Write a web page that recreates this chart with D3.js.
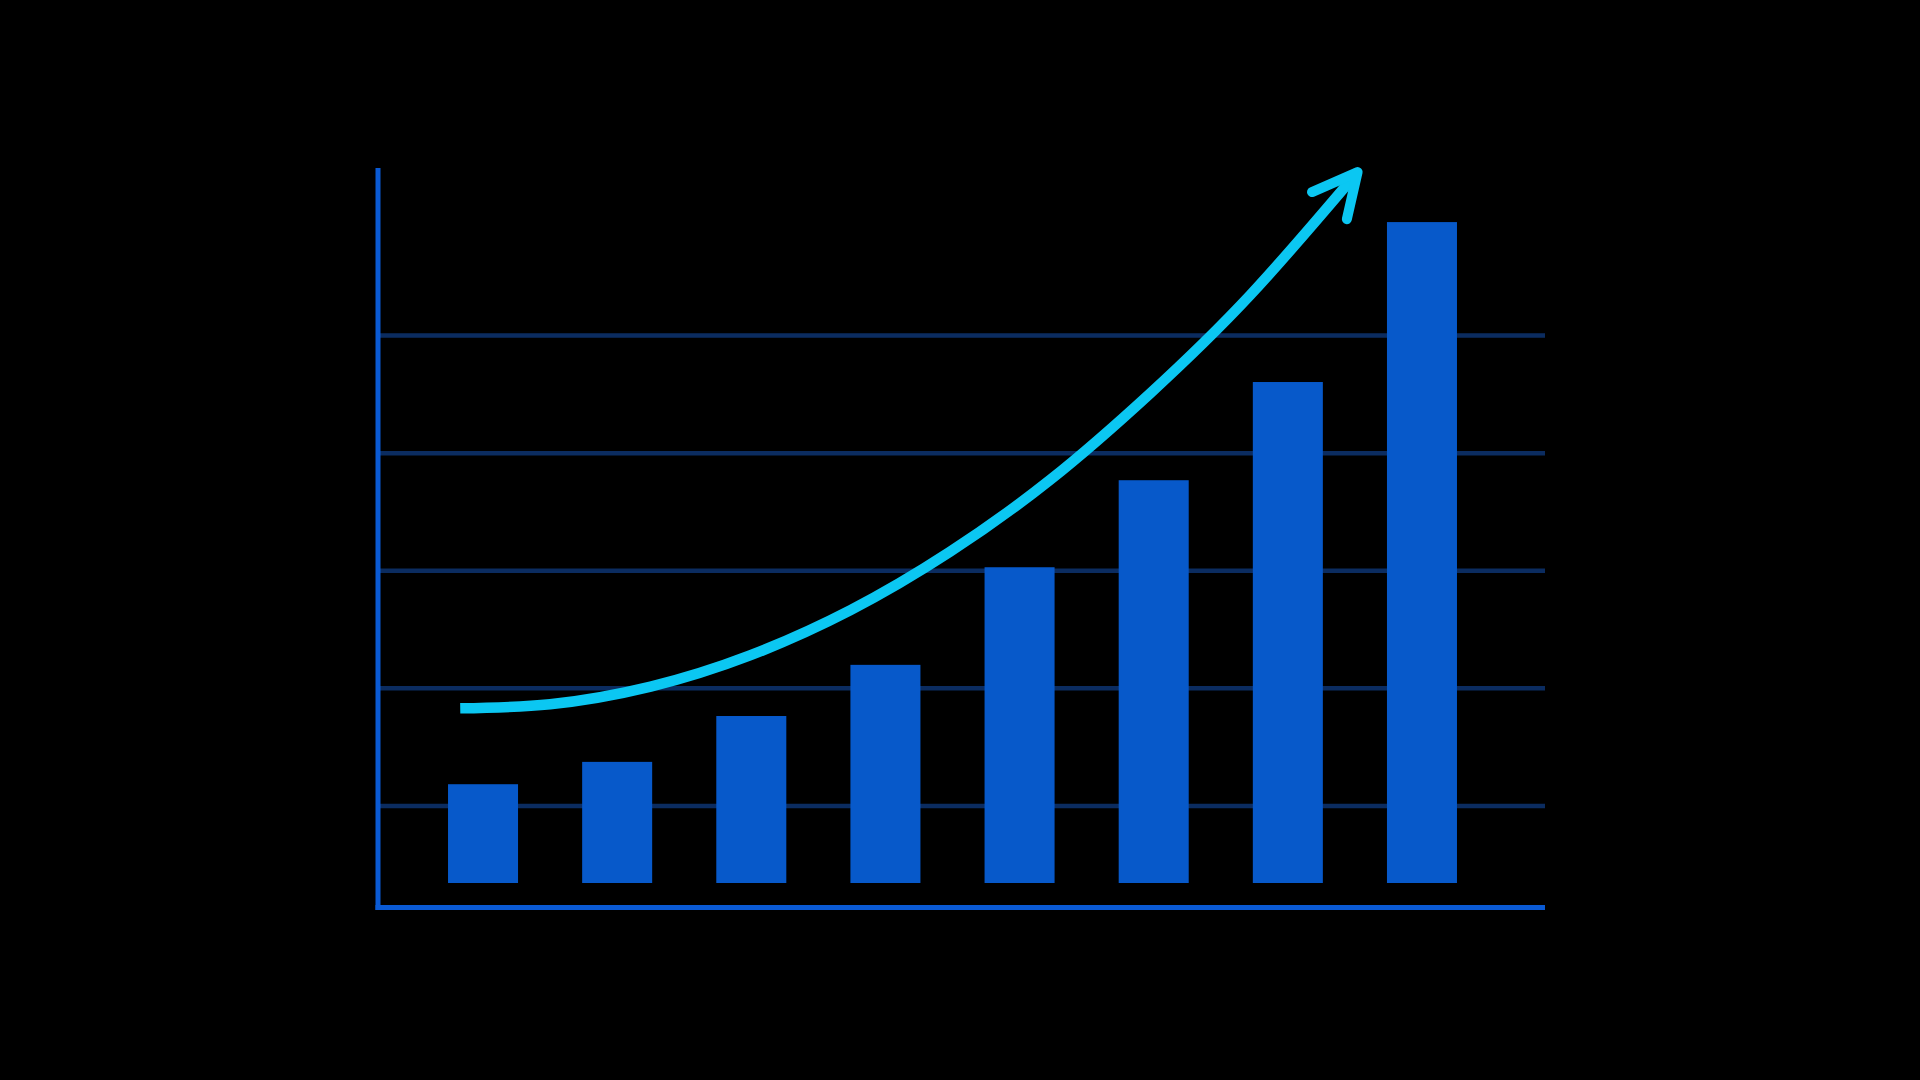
<!DOCTYPE html>
<html>
<head>
<meta charset="utf-8">
<script src="https://cdn.jsdelivr.net/npm/d3@7"></script>
<style>
  html, body { margin: 0; padding: 0; background: #000; overflow: hidden; }
</style>
</head>
<body>
<div id="chart"></div>
<script>
// bar values (bars stand on 0)
var categories = ["1", "2", "3", "4", "5", "6", "7", "8"];
var values = [16.8, 20.6, 28.4, 37.1, 53.7, 68.5, 85.2, 112.4];
// horizontal guide lines
var gridValues = [13.1, 33.1, 53.1, 73.1, 93.1];
// trend arrow, x in category index units, y in value units
var trendX = [-0.17, 0.50, 1.25, 1.99, 2.74, 3.48, 4.23, 4.97, 5.72, 6.52];
var trendY = [29.7, 30.4, 33.4, 38.7, 46.4, 56.3, 68.6, 83.2, 100.0, 120.9];
var headX = [6.18, 6.52, 6.44];
var headY = [117.5, 120.9, 112.9];

var width = 1920, height = 1080;
var axisLeft = 378, axisRight = 1545, axisTop = 168, axisBottom = 907.5;
var barBase = 883;

d3.select("#chart").html("");
var svg = d3.select("#chart").append("svg")
    .attr("width", width)
    .attr("height", height)
    .style("background", "#000");

var x = d3.scaleBand()
    .domain(categories)
    .range([axisLeft, 1527])
    .paddingInner(0.478)
    .paddingOuter(0.522);

var y = d3.scaleLinear()
    .domain([0, 120])
    .range([barBase, barBase - 120 * 5.88]);

// continuous x for the trend curve (index -> band centre)
var xi = d3.scaleLinear()
    .domain([0, categories.length - 1])
    .range([x(categories[0]) + x.bandwidth() / 2,
            x(categories[categories.length - 1]) + x.bandwidth() / 2]);

// grid lines
svg.append("g")
    .selectAll("line")
    .data(gridValues)
    .enter().append("line")
    .attr("x1", axisLeft)
    .attr("x2", axisRight)
    .attr("y1", function(d) { return y(d); })
    .attr("y2", function(d) { return y(d); })
    .attr("stroke", "#0b2c60")
    .attr("stroke-width", 4.5);

// bars
svg.append("g")
    .selectAll("rect")
    .data(values)
    .enter().append("rect")
    .attr("x", function(d, i) { return x(categories[i]); })
    .attr("y", function(d) { return y(d); })
    .attr("width", x.bandwidth())
    .attr("height", function(d) { return y(0) - y(d); })
    .attr("fill", "#0759ca");

// axes
svg.append("line")
    .attr("x1", axisLeft).attr("x2", axisLeft)
    .attr("y1", axisTop).attr("y2", axisBottom + 2.5)
    .attr("stroke", "#0a5ad4")
    .attr("stroke-width", 5);
svg.append("line")
    .attr("x1", axisLeft - 2.5).attr("x2", axisRight)
    .attr("y1", axisBottom).attr("y2", axisBottom)
    .attr("stroke", "#0a5ad4")
    .attr("stroke-width", 5);

// trend arrow
var trend = trendX.map(function(d, i) { return [d, trendY[i]]; });
var line = d3.line()
    .x(function(d) { return xi(d[0]); })
    .y(function(d) { return y(d[1]); })
    .curve(d3.curveNatural);

svg.append("path")
    .attr("d", line(trend))
    .attr("fill", "none")
    .attr("stroke", "#0bc7f2")
    .attr("stroke-width", 10.5)
    .attr("stroke-linecap", "butt");

var head = headX.map(function(d, i) { return [d, headY[i]]; });
svg.append("path")
    .attr("d", d3.line()
        .x(function(d) { return xi(d[0]); })
        .y(function(d) { return y(d[1]); })(head))
    .attr("fill", "none")
    .attr("stroke", "#0bc7f2")
    .attr("stroke-width", 10)
    .attr("stroke-linecap", "round")
    .attr("stroke-linejoin", "round");
</script>
</body>
</html>
